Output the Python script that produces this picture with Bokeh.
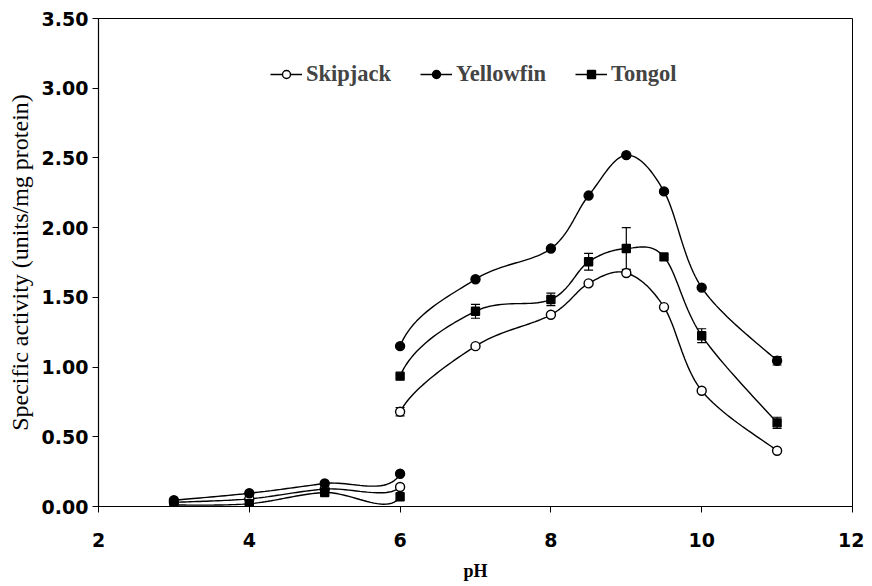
from bokeh.plotting import figure
from bokeh.models import (ColumnDataSource, Whisker, TeeHead, Legend, LegendItem,
                          FixedTicker, NumeralTickFormatter, Range1d)
from bokeh.embed import file_html
from bokeh.resources import INLINE

# ---- data ----
ph = [3, 4, 5, 6, 6, 7, 8, 8.5, 9, 9.5, 10, 11]
skipjack = [0.03, 0.055, 0.125, 0.14, 0.68, 1.15, 1.375, 1.60, 1.675, 1.43, 0.83, 0.40]
yellowfin = [0.045, 0.095, 0.165, 0.235, 1.15, 1.63, 1.85, 2.23, 2.52, 2.26, 1.57, 1.045]
tongol = [0.01, 0.02, 0.10, 0.07, 0.935, 1.40, 1.485, 1.755, 1.85, 1.79, 1.225, 0.60]
skipjack_err = [0, 0, 0, 0, 0.03, 0, 0, 0, 0, 0, 0, 0]
yellowfin_err = [0, 0, 0, 0, 0, 0, 0, 0, 0, 0, 0, 0.03]
tongol_err = [0, 0, 0, 0, 0, 0.05, 0.045, 0.06, 0.15, 0, 0.05, 0.04]
x_ticks = [2, 4, 6, 8, 10, 12]
y_ticks = [0, 0.5, 1.0, 1.5, 2.0, 2.5, 3.0, 3.5]
break_after = 3  # no line drawn between the two pH 6 readings


def smooth(xs, ys, n=24):
    """Excel-like smoothed line (Catmull-Rom Bezier) split at the break."""
    pts = list(zip(xs, ys))
    parts = [[[], []], [[], []]]
    for i in range(len(pts) - 1):
        if i == break_after:
            continue
        p0 = pts[i - 1] if i > 0 else pts[i]
        p1 = pts[i]
        p2 = pts[i + 1]
        p3 = pts[i + 2] if i + 2 < len(pts) else pts[i + 1]
        c1 = (p1[0] + (p2[0] - p0[0]) / 6, p1[1] + (p2[1] - p0[1]) / 6)
        c2 = (p2[0] - (p3[0] - p1[0]) / 6, p2[1] - (p3[1] - p1[1]) / 6)
        part = parts[0] if i < break_after else parts[1]
        for k in range(n + 1):
            t = k / n
            a, b, c, d = (1 - t) ** 3, 3 * (1 - t) ** 2 * t, 3 * (1 - t) * t ** 2, t ** 3
            part[0].append(a * p1[0] + b * c1[0] + c * c2[0] + d * p2[0])
            part[1].append(a * p1[1] + b * c1[1] + c * c2[1] + d * p2[1])
    return [p[0] for p in parts], [p[1] for p in parts]


p = figure(width=864, height=586, output_backend="svg", toolbar_location=None,
           x_range=Range1d(2, 12), y_range=Range1d(0, 3.5),
           min_border_left=98, min_border_right=12, min_border_top=18, min_border_bottom=80)
p.xgrid.visible = False
p.ygrid.visible = False
p.outline_line_color = "black"
p.outline_line_width = 1
p.background_fill_color = "white"

series = [
    ("Skipjack", skipjack, skipjack_err, "circle", "white", 9),
    ("Yellowfin", yellowfin, yellowfin_err, "circle", "black", 9),
    ("Tongol", tongol, tongol_err, "square", "black", 8),
]

items = []
for name, vals, errs, marker, fill, size in series:
    xs, ys = smooth(ph, vals)
    line = p.multi_line(xs, ys, line_color="black", line_width=1.4)
    src = ColumnDataSource(dict(x=ph, y=vals))
    sc = p.scatter("x", "y", source=src, marker=marker, size=size, fill_color=fill,
                   line_color="black", line_width=1.4)
    ex = [x for x, e in zip(ph, errs) if e > 0]
    eu = [v + e for v, e in zip(vals, errs) if e > 0]
    el = [v - e for v, e in zip(vals, errs) if e > 0]
    if ex:
        esrc = ColumnDataSource(dict(x=ex, upper=eu, lower=el))
        w = Whisker(base="x", upper="upper", lower="lower", source=esrc,
                    line_color="black", line_width=1.2,
                    upper_head=TeeHead(size=9, line_color="black", line_width=1.2),
                    lower_head=TeeHead(size=9, line_color="black", line_width=1.2))
        p.add_layout(w)
    items.append(LegendItem(label=name, renderers=[line, sc]))

legend = Legend(items=items, orientation="horizontal", location=(172, 419),
                label_text_font="Liberation Serif", label_text_font_style="bold",
                label_text_font_size="22.5px", glyph_width=32, glyph_height=20,
                label_standoff=4, spacing=29, padding=0, margin=0,
                border_line_color=None, background_fill_alpha=0)
p.add_layout(legend)

tick_font = "DejaVu Sans"
p.xaxis.ticker = FixedTicker(ticks=x_ticks)
p.yaxis.ticker = FixedTicker(ticks=y_ticks)
p.yaxis.formatter = NumeralTickFormatter(format="0.00")
for ax in (p.xaxis, p.yaxis):
    ax.major_label_text_font = tick_font
    ax.major_label_text_font_style = "bold"
    ax.major_label_text_font_size = "19px"
    ax.major_label_text_color = "black"
    ax.axis_line_color = "black"
    ax.axis_line_width = 1.2
    ax.major_tick_line_color = "black"
    ax.major_tick_out = 6
    ax.major_tick_in = 0
    ax.minor_tick_line_color = None
    ax.axis_label_text_font = "Liberation Serif"
    ax.axis_label_text_color = "black"
p.xaxis.major_label_standoff = 20
p.yaxis.major_label_standoff = 4
p.xaxis.axis_label = "pH"
p.xaxis.axis_label_text_font_style = "bold"
p.xaxis.axis_label_text_font_size = "18px"
p.xaxis.axis_label_standoff = 11
p.yaxis.axis_label = "Specific activity (units/mg protein)"
p.yaxis.axis_label_text_font_style = "normal"
p.yaxis.axis_label_text_font_size = "24px"
p.yaxis.axis_label_standoff = 6

open("out.html", "w").write(file_html(p, INLINE))
